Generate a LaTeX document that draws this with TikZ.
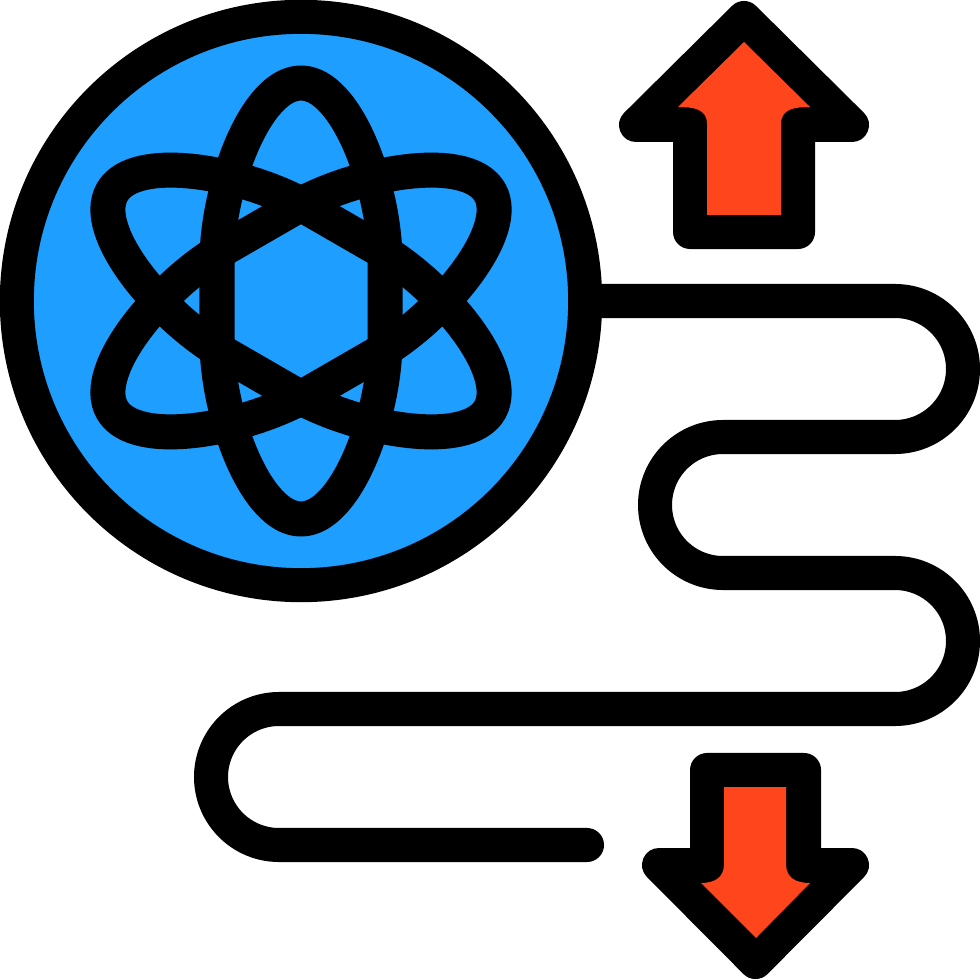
\documentclass[tikz,border=0pt]{standalone}
\usepackage{xcolor}
\definecolor{globeblue}{HTML}{1E9FFF}
\definecolor{arrowred}{HTML}{FF451B}
\tikzset{
  outline/.style={draw=black, line width=3.4mm, line join=round},
  orbit/.style={outline, line width=3.5mm},
  wire/.style={outline, line cap=round, rounded corners=6.8mm}
}

\begin{document}
\begin{tikzpicture}[x=0.01cm, y=-0.01cm]
      \useasboundingbox (0,0) rectangle (980,980);

      \path
      (301,301) node[circle, outline, fill=globeblue, minimum size=5.68cm, inner sep=0pt, outer sep=0pt](globe){};
      \foreach \ang in {0,60,120}
        \draw[orbit, shift={(globe.center)}, rotate=\ang] (84,-40)
          .. controls (84,-112) and (46,-218) .. (0,-218)
          .. controls (-46,-218) and (-84,-112) .. (-84,-40) -- (-84,40)
          .. controls (-84,112) and (-46,218) .. (0,218)
          .. controls (46,218) and (84,112) .. (84,40) -- cycle;

      \draw[wire] (globe.east) -- (963,301) -- (963,437) -- (655,437) -- (655,573)
        -- (963,573) -- (963,709) -- (211,709) -- (211,845) -- (587,845);

      % arrow up
      \filldraw[outline, fill=black] (744,18) -- (852,125) -- (798,125) -- (798,232)
        -- (690,232) -- (690,125) -- (636,125) -- cycle;
      \fill[arrowred] (744,42) -- (810,107) .. controls (794,107) and (781,109) .. (781,124)
        -- (781,215) -- (707,215) -- (707,124) .. controls (707,109) and (694,107) .. (678,107) -- cycle;

      % arrow down
      \filldraw[outline, fill=black] (755.5,962) -- (852,865) -- (804,865) -- (804,770)
        -- (707,770) -- (707,865) -- (659,865) -- cycle;
      \fill[arrowred] (756,938) -- (810,883) .. controls (796,883) and (786,878) .. (786,864)
        -- (786,787) -- (724,787) -- (724,864) .. controls (724,878) and (714,883) .. (701,883) -- cycle;
    \end{tikzpicture}
\end{document}
